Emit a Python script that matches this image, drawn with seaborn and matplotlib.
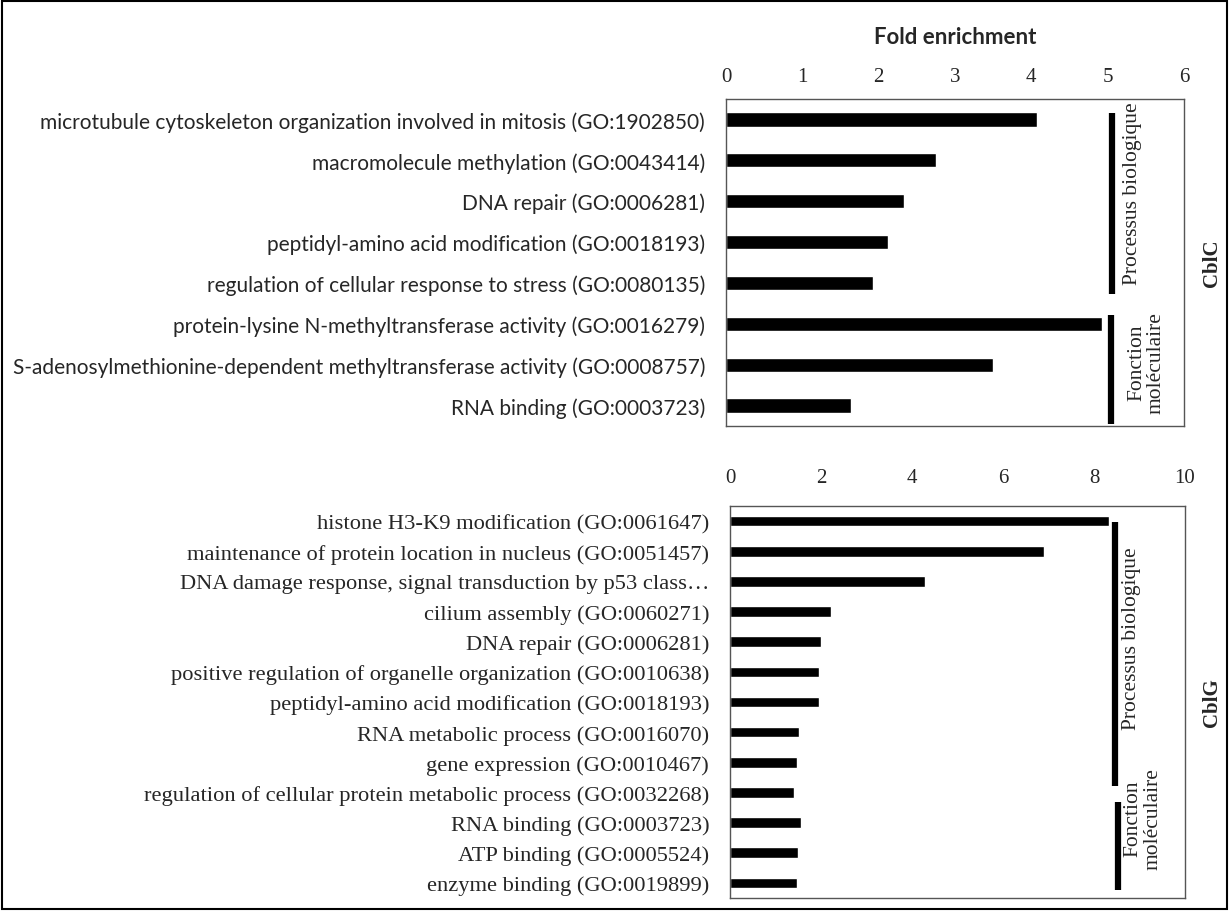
import matplotlib
matplotlib.use("Agg")
import matplotlib.pyplot as plt
import seaborn as sns
import pandas as pd

# CblC panel
cblc_terms = [
    "microtubule cytoskeleton organization involved in mitosis (GO:1902850)",
    "macromolecule methylation (GO:0043414)",
    "DNA repair (GO:0006281)",
    "peptidyl-amino acid modification (GO:0018193)",
    "regulation of cellular response to stress (GO:0080135)",
    "protein-lysine N-methyltransferase activity (GO:0016279)",
    "S-adenosylmethionine-dependent methyltransferase activity (GO:0008757)",
    "RNA binding (GO:0003723)",
]
cblc_fold = [4.08, 2.75, 2.33, 2.12, 1.92, 4.92, 3.50, 1.64]

# CblG panel
cblg_terms = [
    "histone H3-K9 modification (GO:0061647)",
    "maintenance of protein location in nucleus (GO:0051457)",
    "DNA damage response, signal transduction by p53 class\u2026",
    "cilium assembly (GO:0060271)",
    "DNA repair (GO:0006281)",
    "positive regulation of organelle organization (GO:0010638)",
    "peptidyl-amino acid modification (GO:0018193)",
    "RNA metabolic process (GO:0016070)",
    "gene expression (GO:0010467)",
    "regulation of cellular protein metabolic process (GO:0032268)",
    "RNA binding (GO:0003723)",
    "ATP binding (GO:0005524)",
    "enzyme binding (GO:0019899)",
]
cblg_fold = [8.32, 6.89, 4.28, 2.21, 1.99, 1.96, 1.96, 1.52, 1.47, 1.40, 1.55, 1.50, 1.47]

group_names = ["Processus biologique", "Fonction\nmoléculaire"]
# bracket extent of each group, in category units (first, last)
cblc_spans = [(-0.16, 4.27), (4.78, 7.45)]
cblg_spans = [(0.03, 8.79), (9.32, 12.24)]

sns.set_style("white")
plt.rcParams["font.family"] = ["Liberation Serif", "DejaVu Serif"]

fig = plt.figure(figsize=(12.29, 9.12), dpi=100)


def panel(ax, terms, values, xmax, ticks, label_font, label_size, tick_pad,
          spans, bx, tx, ty, name):
    df = pd.DataFrame({"term": terms, "fold": values})
    sns.barplot(data=df, x="fold", y="term", color="black", width=0.35,
                orient="h", ax=ax, saturation=1)
    ax.set_xlim(0, xmax)
    ax.set_ylim(len(terms) - 0.5, -0.5)
    ax.set_xticks(ticks)
    ax.xaxis.tick_top()
    ax.tick_params(axis="x", length=0, labelsize=15, pad=tick_pad)
    ax.tick_params(axis="y", length=0, pad=15)
    for lab in ax.get_yticklabels():
        lab.set_fontfamily(label_font)
        lab.set_fontsize(label_size)
    ax.set_xlabel("")
    ax.set_ylabel("")
    for s in ax.spines.values():
        s.set_visible(True)
        s.set_color("#555555")
        s.set_linewidth(1.0)
    for i, (lo, hi) in enumerate(spans):
        ax.plot([bx[i], bx[i]], [lo, hi], color="black", lw=4.5,
                solid_capstyle="butt", clip_on=False)
        ax.text(tx[i], ty[i], group_names[i], rotation=90, ha="center",
                va="center", fontsize=15.5, linespacing=1.05, clip_on=False)
    ax.text(1.06, 0.5, name, transform=ax.transAxes, rotation=90,
            ha="center", va="center", fontsize=15, fontweight="bold")


ax1 = fig.add_axes([0.5907, 0.5318, 0.3727, 0.3586])
panel(ax1, cblc_terms, cblc_fold, 6, range(0, 7), "Lato", 15.0, 9,
      cblc_spans, [5.06, 5.04], [5.33, 5.51], [1.80, 5.93], "CblC")
ax1.text(0.5, 1.19, "Fold enrichment", transform=ax1.transAxes,
         ha="center", va="center", fontsize=16, fontweight="bold",
         fontfamily="Lato")

ax2 = fig.add_axes([0.594, 0.01425, 0.3702, 0.4298])
panel(ax2, cblg_terms, cblg_fold, 10, range(0, 11, 2), "Liberation Serif",
      16.2, 14, cblg_spans, [8.46, 8.52], [8.83, 9.07], [3.88, 9.85], "CblG")

fig.add_artist(plt.Rectangle((0.002, 0.002), 0.996, 0.996,
                             transform=fig.transFigure, fill=False,
                             edgecolor="black", linewidth=1.5))

fig.savefig("out.png", dpi=100)
